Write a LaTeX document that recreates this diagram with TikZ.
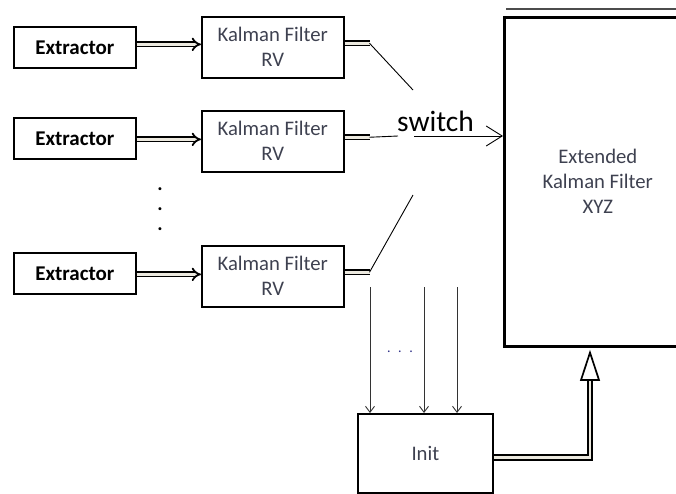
\documentclass[tikz,border=0pt]{standalone}
\usepackage{fontspec}
\setmainfont{Carlito}
\usetikzlibrary{arrows.meta}
\definecolor{txt}{HTML}{3E4150}
\definecolor{fillin}{HTML}{ECE9DF}
\begin{document}
\begin{tikzpicture}[x=1pt,y=-1pt,
  extbox/.style={draw, line width=1.7pt, anchor=north west, inner sep=0pt,
    minimum width=122pt, minimum height=41pt, font=\fontsize{21}{25}\selectfont\bfseries},
  kalbox/.style={draw, line width=1.5pt, anchor=north west, inner sep=0pt,
    minimum width=142pt, minimum height=61pt, align=center, text=txt,
    font=\fontsize{20.7}{25}\selectfont},
  dblline/.style={double=fillin, double distance=2.6pt, line width=1.8pt},
  dblarrow/.style={dblline, -{Implies}},
  swline/.style={line width=0.9pt},
  thinarrow/.style={line width=0.9pt, draw=black!80, -{Straight Barb[length=6pt,width=9pt]}}]
\useasboundingbox (0,0) rectangle (676,493);
\clip (0,0) rectangle (676,493);

% Extractor boxes
\node[extbox] (e1) at (13,26) {Extractor};
\node[extbox] (e2) at (13,117) {Extractor};
\node[extbox] (e3) at (13,252) {Extractor};

% Kalman filter boxes
\node[kalbox] (k1) at (201,16) {Kalman Filter\\RV};
\node[kalbox] (k2) at (201,110) {Kalman Filter\\RV};
\node[kalbox] (k3) at (201,245) {Kalman Filter\\RV};

% vertical dots
\node[font=\fontsize{20}{20}\selectfont\bfseries, align=center, inner sep=0pt, anchor=north] (vdots) at (160,187) {.\\.\\.};

% double arrows extractor -> kalman
\draw[dblarrow] ([yshift=3pt]e1.east) -- ([yshift=3pt]e1.east -| k1.west);
\draw[dblarrow] ([yshift=-1pt]e2.east) -- ([yshift=-1pt]e2.east -| k2.west);
\draw[dblarrow] ([yshift=-1pt]e3.east) -- ([yshift=-1pt]e3.east -| k3.west);

% output stubs
\draw[dblline] ([yshift=4pt]k1.east) -- ++(25,0) coordinate (s1);
\draw[dblline] ([yshift=4pt]k2.east) -- ++(25,0) coordinate (s2);
\draw[dblline] ([yshift=4pt]k3.east) -- ++(25,0) coordinate (s3);

% EKF box
\node[draw, line width=2.6pt, anchor=north west, inner sep=0pt,
  minimum width=187pt, minimum height=329pt, align=center, text=txt,
  font=\fontsize{20.7}{25}\selectfont] (ekf) at (503,16) {Extended\\Kalman Filter\\XYZ};
\draw[line width=1.6pt, draw=black!70] ([xshift=3pt,yshift=7pt]ekf.north west) -- ([yshift=7pt]ekf.north east);

% switch
\coordinate (sw1) at (413,90);
\coordinate (sw3) at (413,195);
\coordinate (sw2l) at (398,136);
\coordinate (sw2r) at (414,136);
\draw[swline] (s1) -- (sw1);
\draw[swline] (s3) -- (sw3);
\draw[swline] (s2) -- (sw2l);
\node[anchor=base, inner sep=0pt, font=\fontsize{29.5}{30}\selectfont] (sw) at (435.5,131) {switch};
\draw[swline, -{Straight Barb[length=16pt,width=20pt]}] (sw2r) -- (sw2r -| ekf.west);

% Init box
\node[draw, line width=1.8pt, anchor=north west, inner sep=0pt,
  minimum width=135pt, minimum height=79pt, text=txt,
  font=\fontsize{20.7}{25}\selectfont] (init) at (357,413) {Init};

% vertical arrows into Init
\coordinate (v1) at (370,287);
\coordinate (v2) at (424,287);
\coordinate (v3) at (457,287);
\draw[thinarrow] (v1) -- (v1 |- init.north);
\draw[thinarrow] (v2) -- (v2 |- init.north);
\draw[thinarrow] (v3) -- (v3 |- init.north);
\node[text=txt!70!blue, inner sep=0pt, font=\fontsize{14}{14}\selectfont] (hdots) at (400,352) {.\hspace{7.5pt}.\hspace{7.5pt}.};

% Init -> EKF
\coordinate (tipbase) at (590,380);
\coordinate (tip) at (tipbase |- ekf.south);
\draw[dblline] ([yshift=-4pt]init.east) -| (tipbase);
\draw[line width=1.7pt, fill=white, line join=miter]
  ([xshift=-9pt]tipbase) -- ([yshift=-5pt]tip) -- ([xshift=9pt]tipbase) -- cycle;
\end{tikzpicture}
\end{document}
